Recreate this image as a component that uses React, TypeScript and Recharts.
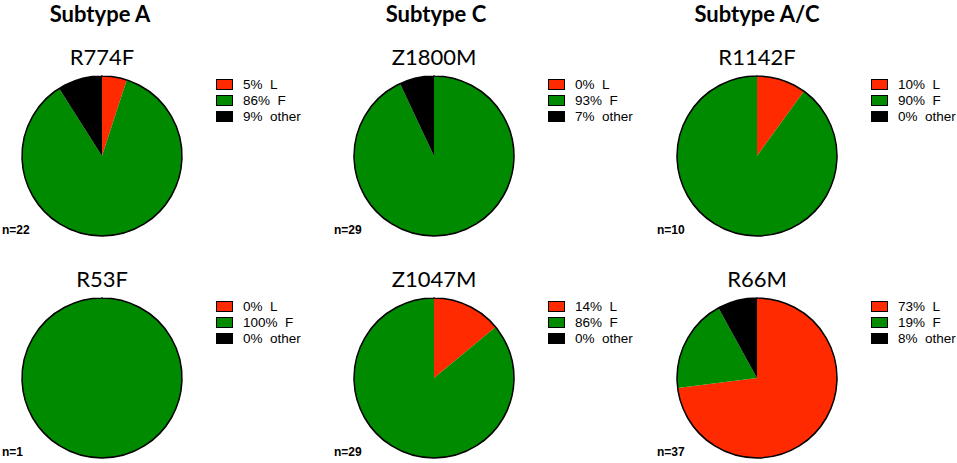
import { PieChart, Pie, Cell } from "recharts";

// row-major: top row then bottom row
const subtypes = ["Subtype A", "Subtype C", "Subtype A/C"];
const mutations = ["R774F", "Z1800M", "R1142F", "R53F", "Z1047M", "R66M"];
const categories = ["L", "F", "other"];
const lValues = [5, 0, 10, 0, 14, 73];
const fValues = [86, 93, 90, 100, 86, 19];
const otherValues = [9, 7, 0, 0, 0, 8];
const nCounts = [22, 29, 10, 1, 29, 37];

const sliceColors = ["#FF2A00", "#008A00", "#000000"];

const colX = [102, 434, 757];
const rowY = [156, 378];
const titleX = [100, 436, 757];

const CHART_W = 190;
const CHART_H = 190;
const PIE_CX = 95;
const PIE_CY = 95;
const RADIUS = 80;

function buildPieData(i: number) {
  const series = [lValues, fValues, otherValues];
  return categories.map(function (cat, j) {
    return { name: cat, value: series[j][i] };
  });
}

function PieLegend({ rows, left, top }: { rows: { name: string; value: number }[]; left: number; top: number }) {
  return (
    <div
      style={{
        position: "absolute",
        left,
        top,
        fontFamily: "'Liberation Sans', Arial, sans-serif",
        fontSize: 13.5,
        color: "#000",
      }}
    >
      {rows.map(function (row, j) {
        return (
          <div
            key={row.name}
            style={{ display: "flex", alignItems: "center", height: 15.75 }}
          >
            <span
              style={{
                display: "inline-block",
                flexShrink: 0,
                width: 17,
                height: 11,
                boxSizing: "border-box",
                border: "1px solid #000",
                background: sliceColors[j],
                marginRight: 10,
              }}
            />
            <span style={{ whiteSpace: "pre", lineHeight: "15px" }}>
              {row.value + "%  " + row.name}
            </span>
          </div>
        );
      })}
    </div>
  );
}

function MutationPie({ index }: { index: number }) {
  const col = index % 3;
  const row = Math.floor(index / 3);
  const data = buildPieData(index);
  const total = data.reduce((s, d) => s + d.value, 0);

  return (
    <>
      <div
        style={{
          position: "absolute",
          left: colX[col] - PIE_CX,
          top: rowY[row] - PIE_CY,
          width: CHART_W,
          height: CHART_H,
        }}
      >
        <PieChart width={CHART_W} height={CHART_H} margin={{ top: 0, right: 0, bottom: 0, left: 0 }}>
          <Pie
            data={data}
            dataKey="value"
            nameKey="name"
            cx={PIE_CX}
            cy={PIE_CY}
            outerRadius={RADIUS}
            startAngle={90}
            endAngle={-270}
            stroke="none"
            isAnimationActive={false}
          >
            {data.map(function (d, j) {
              return <Cell key={d.name} fill={sliceColors[j]} stroke="none" />;
            })}
          </Pie>
          {/* outline ring */}
          <Pie
            data={[{ name: "all", value: total }]}
            dataKey="value"
            cx={PIE_CX}
            cy={PIE_CY}
            innerRadius={RADIUS - 0.01}
            outerRadius={RADIUS}
            startAngle={90}
            endAngle={-270}
            fill="none"
            stroke="#000"
            strokeWidth={1.5}
            legendType="none"
            isAnimationActive={false}
          >
            <Cell fill="none" stroke="#000" />
          </Pie>
        </PieChart>
      </div>
      <PieLegend rows={data} left={colX[col] + 114} top={rowY[row] - 79} />
    </>
  );
}

export default function App() {
  return (
    <div
      style={{
        position: "absolute",
        left: 0,
        top: 0,
        width: 957,
        height: 463,
        background: "#fff",
        overflow: "hidden",
      }}
    >
      {mutations.map(function (_m, i) {
        return <MutationPie key={i} index={i} />;
      })}
      <svg
        width={957}
        height={463}
        style={{ position: "absolute", left: 0, top: 0, pointerEvents: "none" }}
      >
        {subtypes.map(function (s, c) {
          return (
            <text
              key={s}
              x={titleX[c]}
              y={22}
              textAnchor="middle"
              fontFamily="Lato, 'Open Sans', sans-serif"
              fontWeight="bold"
              fontSize={22}
              fill="#000"
            >
              {s}
            </text>
          );
        })}
        {mutations.map(function (m, i) {
          const col = i % 3;
          const row = Math.floor(i / 3);
          return (
            <text
              key={m}
              x={colX[col]}
              y={rowY[row] - 91}
              textAnchor="middle"
              fontFamily="Lato, 'Open Sans', sans-serif"
              fontSize={22}
              fill="#000"
            >
              {m}
            </text>
          );
        })}
        {nCounts.map(function (n, i) {
          const col = i % 3;
          const row = Math.floor(i / 3);
          return (
            <text
              key={"n" + i}
              x={colX[col] - 100}
              y={rowY[row] + 78}
              fontFamily="'Liberation Sans', Arial, sans-serif"
              fontWeight="bold"
              fontSize={12}
              fill="#000"
            >
              {"n=" + n}
            </text>
          );
        })}
      </svg>
    </div>
  );
}
